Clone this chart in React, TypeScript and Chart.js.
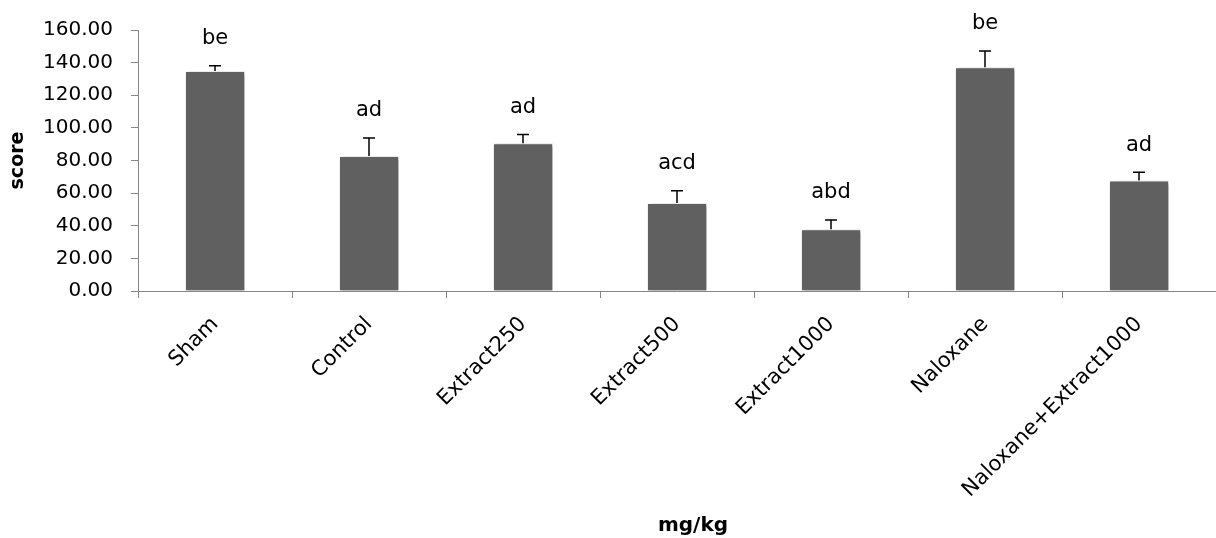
import React, { useEffect, useRef } from "react";
import { Chart, registerables } from "chart.js";

Chart.register(...registerables);

const categories = [
  "Sham",
  "Control",
  "Extract250",
  "Extract500",
  "Extract1000",
  "Naloxane",
  "Naloxane+Extract1000",
];
const scores = [134.9, 82.8, 90.6, 54.0, 37.8, 137.2, 67.7];
const errors = [3.2, 11.0, 5.4, 7.5, 5.7, 9.9, 5.1];
const letters = ["be", "ad", "ad", "acd", "abd", "be", "ad"];
const yTicks = [0, 20, 40, 60, 80, 100, 120, 140, 160];
const xTitle = "mg/kg";
const yTitle = "score";

const FONT = "'DejaVu Sans', sans-serif";

const errorPlugin = {
  id: "errorLetters",
  beforeDatasetsDraw(chart: any) {
    const ctx = chart.ctx;
    ctx.save();
    ctx.shadowColor = "rgba(0,0,0,0.35)";
    ctx.shadowBlur = 4;
    ctx.shadowOffsetX = 2;
    ctx.shadowOffsetY = 1;
  },
  afterDatasetsDraw(chart: any) {
    const ctx = chart.ctx;
    ctx.restore();
    const meta = chart.getDatasetMeta(0);
    const yScale = chart.scales.y;
    ctx.save();
    ctx.strokeStyle = "#000000";
    ctx.lineWidth = 1.5;
    ctx.fillStyle = "#000000";
    ctx.font = `21px ${FONT}`;
    ctx.textAlign = "center";
    ctx.textBaseline = "middle";
    meta.data.forEach((bar: any, i: number) => {
      const x = bar.x;
      const yBar = yScale.getPixelForValue(scores[i]);
      const yTop = yScale.getPixelForValue(scores[i] + errors[i]);
      ctx.beginPath();
      ctx.moveTo(x, yBar);
      ctx.lineTo(x, yTop);
      ctx.moveTo(x - 6, yTop);
      ctx.lineTo(x + 6, yTop);
      ctx.stroke();
      ctx.fillText(letters[i], x, yTop - 27);
    });
    ctx.restore();
  },
  afterDraw(chart: any) {
    const ctx = chart.ctx;
    const area = chart.chartArea;
    ctx.save();
    ctx.fillStyle = "#000000";
    ctx.font = `bold 20px ${FONT}`;
    ctx.textAlign = "center";
    ctx.textBaseline = "middle";
    ctx.fillText(xTitle, (area.left + area.right) / 2 + 16, chart.height - 12);
    ctx.restore();
  },
};

export default function App() {
  const ref = useRef<HTMLCanvasElement | null>(null);
  useEffect(() => {
    if (!ref.current) return;
    const chart = new Chart(ref.current, {
      type: "bar",
      data: {
        labels: categories,
        datasets: [
          {
            data: scores,
            backgroundColor: "#606060",
            borderColor: "#ffffff",
            borderWidth: 1,
            categoryPercentage: 1,
            barPercentage: 0.39,
          },
        ],
      },
      options: {
        animation: false,
        responsive: true,
        maintainAspectRatio: false,
        layout: { padding: { top: 30, left: 0, right: 0, bottom: 0 } },
        plugins: {
          legend: { display: false },
          tooltip: { enabled: false },
        },
        scales: {
          x: {
            grid: {
              display: true,
              drawOnChartArea: false,
              drawTicks: true,
              tickLength: 7,
              color: "#868686",
              offset: true,
            },
            border: { color: "#868686", width: 1 },
            ticks: {
              color: "#000000",
              font: { family: FONT, size: 21 },
              minRotation: 45,
              maxRotation: 45,
              autoSkip: false,
              padding: 14,
            },
            title: { display: false },
            afterFit(scale: any) {
              scale.height = 247;
            },
          },
          y: {
            min: 0,
            max: 160,
            afterBuildTicks(scale: any) {
              scale.ticks = yTicks.map((v) => ({ value: v }));
            },
            grid: {
              display: true,
              drawOnChartArea: false,
              drawTicks: true,
              tickLength: 7,
              color: "#868686",
            },
            border: { color: "#868686", width: 1 },
            ticks: {
              color: "#000000",
              font: { family: FONT, size: 20 },
              padding: 18,
              callback: (v: any) => Number(v).toFixed(2),
            },
            title: {
              display: true,
              text: yTitle,
              color: "#000000",
              font: { family: FONT, size: 19, weight: "bold" },
              padding: { top: 7, bottom: 0 },
            },
            afterFit(scale: any) {
              scale.width = 138;
            },
          },
        },
      },
      plugins: [errorPlugin],
    } as any);
    return () => chart.destroy();
  }, []);
  return (
    <div
      style={{
        position: "absolute",
        left: 0,
        top: 0,
        width: 1216,
        height: 538,
        background: "#ffffff",
      }}
    >
      <canvas ref={ref} />
    </div>
  );
}
